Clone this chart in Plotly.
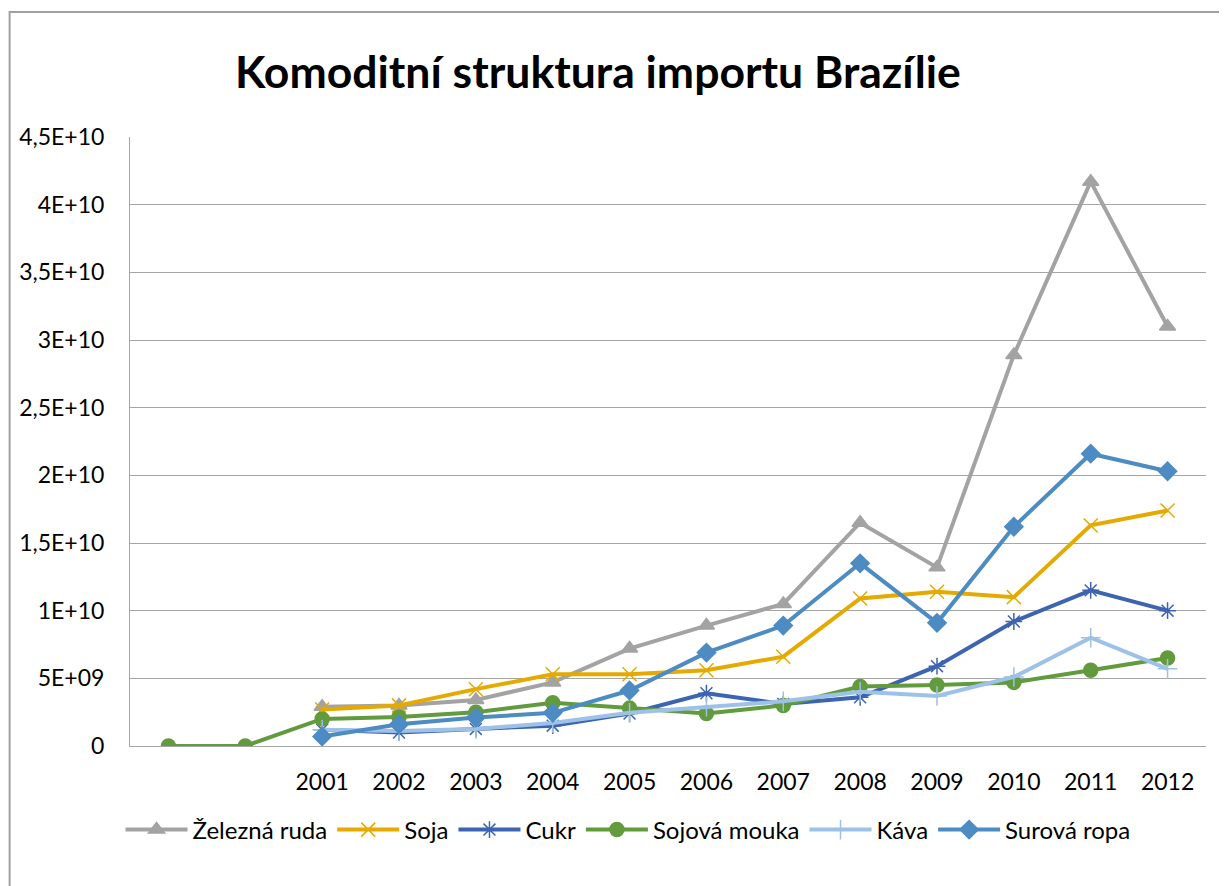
import plotly.graph_objects as go

categories = ["", "", "2001", "2002", "2003", "2004", "2005", "2006", "2007", "2008", "2009", "2010", "2011", "2012"]

zelezna_ruda = [None, None, 2.9e9, 3.0e9, 3.4e9, 4.7e9, 7.2e9, 8.9e9, 10.5e9, 16.5e9, 13.2e9, 28.9e9, 41.7e9, 31.0e9]
soja = [None, None, 2.7e9, 3.0e9, 4.2e9, 5.3e9, 5.3e9, 5.6e9, 6.6e9, 10.9e9, 11.4e9, 11.0e9, 16.3e9, 17.4e9]
cukr = [None, None, 1.2e9, 1.0e9, 1.26e9, 1.5e9, 2.4e9, 3.9e9, 3.1e9, 3.6e9, 5.9e9, 9.2e9, 11.5e9, 10.0e9]
sojova_mouka = [0, 0, 2.0e9, 2.15e9, 2.5e9, 3.2e9, 2.8e9, 2.4e9, 3.0e9, 4.4e9, 4.5e9, 4.7e9, 5.6e9, 6.5e9]
kava = [None, None, 1.2e9, 1.1e9, 1.26e9, 1.7e9, 2.45e9, 2.9e9, 3.3e9, 4.0e9, 3.7e9, 5.1e9, 8.0e9, 5.7e9]
surova_ropa = [None, None, 0.7e9, 1.6e9, 2.1e9, 2.45e9, 4.1e9, 6.9e9, 8.9e9, 13.5e9, 9.1e9, 16.2e9, 21.6e9, 20.3e9]

y_tick_values = [0, 5e9, 1e10, 1.5e10, 2e10, 2.5e10, 3e10, 3.5e10, 4e10, 4.5e10]
y_tick_labels = ["0", "5E+09", "1E+10", "1,5E+10", "2E+10", "2,5E+10", "3E+10", "3,5E+10", "4E+10", "4,5E+10"]

series = [
    ("Železná ruda", zelezna_ruda, "#A3A3A3", "triangle-up", 14),
    ("Soja", soja, "#E5AA00", "x-thin-open", 14),
    ("Cukr", cukr, "#3D64B0", "asterisk-open", 14),
    ("Sojová mouka", sojova_mouka, "#629B3D", "circle", 14),
    ("Káva", kava, "#9DC1E7", "cross-thin-open", 14),
    ("Surová ropa", surova_ropa, "#4D8BC3", "diamond", 14),
]

x_idx = list(range(len(categories)))

fig = go.Figure()
for name, vals, color, sym, size in series:
    fig.add_trace(go.Scatter(
        x=x_idx, y=vals, name=name, mode="lines+markers",
        line=dict(color=color, width=4),
        marker=dict(symbol=sym, size=size, color=color, line=dict(color=color, width=1.5)),
        connectgaps=False,
    ))

OFF = 8  # page body margin
W, H = 1219, 878
L, T = 121.5, 129
pw, ph = 1077, 609
R, B = W - L - pw, H - T - ph

def px(x_screen):
    return (x_screen - OFF - L) / pw

def py(y_screen):
    return (T + ph - (y_screen - OFF)) / ph

FONT = "Lato, 'Open Sans', sans-serif"

fig.update_layout(
    width=W, height=H,
    margin=dict(l=L, r=R, t=T, b=B),
    paper_bgcolor="white", plot_bgcolor="white",
    font=dict(family=FONT, size=23, color="#000000"),
    showlegend=True,
    legend=dict(orientation="h", x=px(628), y=py(830), xanchor="center", yanchor="middle",
                font=dict(size=24), itemwidth=62, tracegroupgap=0, bgcolor="rgba(0,0,0,0)"),
    xaxis=dict(range=[-0.5, 13.5], tickmode="array", tickvals=x_idx, ticktext=categories,
               showgrid=False, zeroline=False, showline=True, linecolor="#A6A6A6", linewidth=1,
               ticks="", ticklabelstandoff=15, tickfont=dict(size=23)),
    yaxis=dict(range=[0, 4.5e10], tickmode="array", tickvals=y_tick_values, ticktext=y_tick_labels,
               showgrid=True, gridcolor="#A6A6A6", gridwidth=1, zeroline=False,
               showline=True, linecolor="#A6A6A6", linewidth=1, ticks="", ticklabelstandoff=20,
               tickfont=dict(size=23)),
    annotations=[dict(text="<b>Komoditní struktura importu Brazílie</b>", xref="paper", yref="paper",
                      x=px(597.5), y=py(70), xanchor="center", yanchor="middle", showarrow=False,
                      font=dict(size=44.5, color="#000000", family=FONT))],
    shapes=[dict(type="rect", xref="paper", yref="paper", x0=px(9), x1=px(1260), y0=py(920), y1=py(12),
                 line=dict(color="#A0A0A0", width=2), fillcolor="rgba(0,0,0,0)", layer="below")],
)

fig.write_html("out.html")
